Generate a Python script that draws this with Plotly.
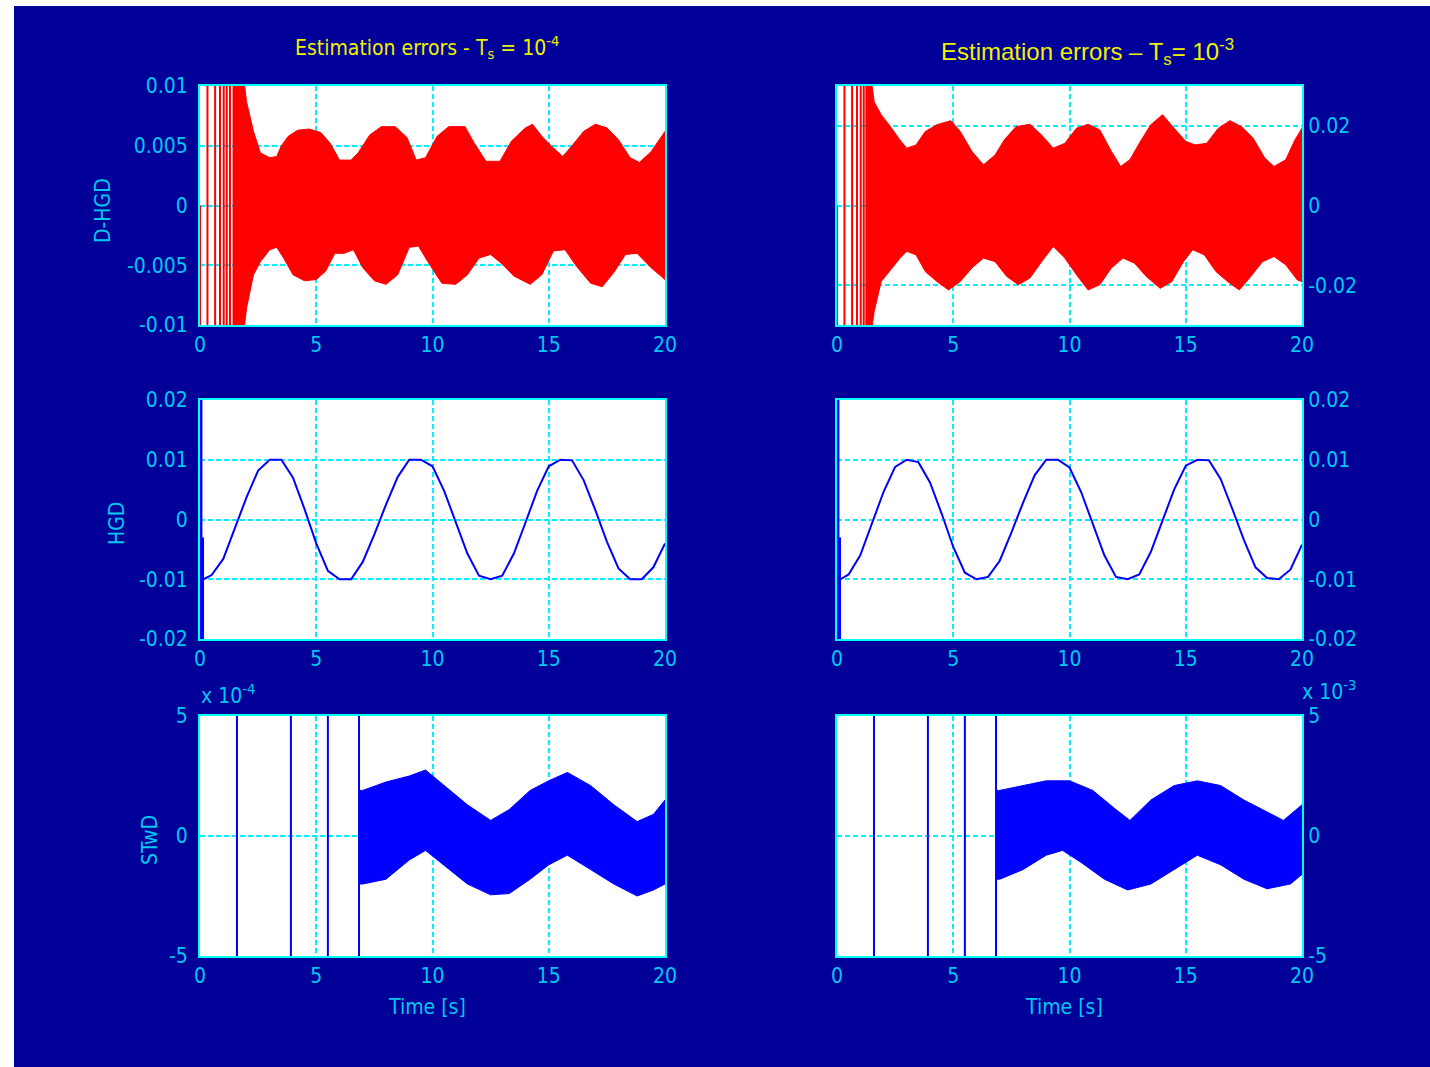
import plotly.graph_objects as go

W, H = 1430, 1067

# ---------------- data ----------------
TIME_TICKS = [0, 5, 10, 15, 20]
TIME_TICK_LABELS = ["0", "5", "10", "15", "20"]

# Row 1 – D-HGD estimation error (values in units of 1e-3)
DHGD4_SPIKES_T = [0.32, 0.65, 0.86, 1.02, 1.15, 1.29]
DHGD4_UP_T = [1.40, 1.80, 2.0, 2.3, 2.6, 3.0, 3.3, 3.5, 3.8, 4.2, 4.7, 5.2, 5.6, 6.0, 6.5, 6.8, 7.3, 7.8, 8.4, 8.9,
              9.3, 9.7, 10.2, 10.7, 11.4, 11.8, 12.3, 12.9, 13.4, 14.0, 14.3, 14.7, 15.1, 15.6, 16.0, 16.5, 17.0,
              17.5, 18.0, 18.5, 18.9, 19.4, 20.0]
DHGD4_UP = [12, 12, 8.7, 6.2, 4.4, 4.0, 4.1, 5.0, 5.8, 6.3, 6.4, 6.1, 5.2, 3.8, 3.8, 4.4, 5.9, 6.6, 6.6, 5.7,
            3.8, 4.0, 5.8, 6.6, 6.6, 5.2, 3.7, 3.7, 5.4, 6.5, 6.8, 5.8, 5.0, 4.1, 5.0, 6.2, 6.8,
            6.5, 5.5, 4.0, 3.6, 4.5, 6.2]
DHGD4_LO_T = [1.40, 1.80, 2.0, 2.3, 2.6, 3.0, 3.3, 3.6, 4.0, 4.5, 5.0, 5.4, 5.8, 6.2, 6.6, 7.0, 7.5, 8.0, 8.5, 9.0,
              9.4, 9.8, 10.4, 11.0, 11.5, 12.0, 12.5, 13.0, 13.5, 14.2, 14.7, 15.2, 15.7, 16.2, 16.8, 17.3, 17.8,
              18.3, 18.8, 19.4, 20.0]
DHGD4_LO = [-12, -12, -8.6, -5.8, -4.7, -3.7, -3.5, -4.4, -5.8, -6.3, -6.2, -5.5, -4.0, -4.0, -3.7, -5.2, -6.3,
            -6.6, -5.8, -3.5, -3.4, -4.7, -6.5, -6.6, -5.8, -4.4, -4.1, -4.9, -5.9, -6.6, -5.8, -3.8, -3.7,
            -5.1, -6.5, -6.8, -5.6, -4.1, -4.0, -5.2, -6.2]

DHGD3_SPIKES_T = [0.32, 0.65, 0.86, 1.02, 1.15]
DHGD3_UP_T = [1.22, 1.4, 1.6, 1.9, 2.3, 2.7, 3.0, 3.4, 3.8, 4.3, 4.9, 5.3, 5.8, 6.3, 6.8, 7.2, 7.7, 8.3, 8.8, 9.3,
              9.8, 10.3, 10.8, 11.3, 11.8, 12.2, 12.6, 13.0, 13.5, 14.0, 14.5, 15.0, 15.4, 15.9, 16.4, 16.9,
              17.4, 17.9, 18.4, 18.8, 19.3, 19.7, 20.0]
DHGD3_UP = [35, 35, 26, 22.8, 19.8, 16.5, 14.4, 15.2, 18.6, 20.3, 21.3, 18.6, 13.6, 10.2, 12.7, 16.5, 19.8, 20.4,
            17.7, 14.4, 15.6, 19.4, 20.4, 19.0, 13.6, 9.8, 11.5, 15.6, 20.3, 22.8, 19.4, 16.1, 15.2, 15.6,
            19.4, 21.3, 19.8, 16.9, 11.9, 9.8, 11.5, 16.5, 19.4]
DHGD3_LO_T = [1.22, 1.4, 1.6, 1.9, 2.3, 2.7, 3.0, 3.4, 3.8, 4.3, 4.8, 5.3, 5.8, 6.3, 6.8, 7.3, 7.8, 8.3, 8.8, 9.3,
              9.8, 10.3, 10.8, 11.3, 11.8, 12.3, 12.8, 13.3, 13.9, 14.4, 14.9, 15.3, 15.8, 16.3, 16.8, 17.3,
              17.8, 18.3, 18.8, 19.3, 19.8, 20.0]
DHGD3_LO = [-35, -35, -26.6, -19.1, -16.2, -13.3, -11.5, -12.4, -16.6, -19.1, -21.2, -19.1, -15.7, -13.2, -14.1,
            -17.8, -19.9, -18.2, -14.1, -10.3, -13.2, -17.4, -21.2, -19.9, -15.7, -13.2, -14.5, -17.8, -20.8,
            -19.1, -14.1, -11.1, -12.4, -16.6, -19.1, -21.2, -17.8, -14.1, -12.8, -14.9, -18.7, -19.1]

# Row 2 – HGD (values in units of 1e-3)
HGD_T = [0.15, 0.5, 1.0, 1.5, 2.0, 2.5, 3.0, 3.5, 4.0, 4.5, 5.0, 5.5, 6.0, 6.5, 7.0, 7.5, 8.0, 8.5, 9.0, 9.5,
         10.0, 10.5, 11.0, 11.5, 12.0, 12.5, 13.0, 13.5, 14.0, 14.5, 15.0, 15.5, 16.0, 16.5, 17.0, 17.5, 18.0,
         18.5, 19.0, 19.5, 20.0]
HGD4 = [-10, -9.3, -6.6, -1.6, 3.7, 8.2, 10, 10, 7.0, 1.7, -4.0, -8.6, -10, -10, -7.1, -2.5, 2.5, 7.1, 10, 10,
        8.9, 4.8, -0.5, -5.7, -9.4, -10, -9.4, -5.7, -0.5, 4.8, 8.9, 10, 9.9, 6.6, 1.6, -3.7, -8.2,
        -10, -10, -8.0, -4.0]
HGD3 = [-10, -9.2, -6.0, -0.8, 4.6, 8.8, 10, 9.6, 6.2, 1.0, -4.6, -8.9, -10, -9.6, -6.9, -2.2, 2.8, 7.4, 10, 10,
        8.7, 4.6, -0.8, -6.0, -9.6, -10, -9.2, -5.4, -0.2, 5.0, 9.0, 10, 9.9, 6.8, 1.8, -3.4, -8.0,
        -9.8, -10, -8.4, -4.2]
HGD_SPIKE_T = [0.05, 0.12]
HGD_SPIKE_TOP = [25, -3]

# Row 3 – STwD (left in units of 1e-4, right in units of 1e-3)
STWD_SPIKES_T = [1.59, 3.91, 5.50, 6.84]
STWD4_UP_T = [6.84, 7.0, 8.0, 9.0, 9.7, 10.5, 11.5, 12.5, 13.3, 14.2, 15.0, 15.8, 16.8, 17.8, 18.8, 19.5, 20.0]
STWD4_UP = [1.9, 1.9, 2.25, 2.5, 2.75, 2.1, 1.3, 0.65, 1.1, 1.9, 2.3, 2.65, 2.1, 1.3, 0.6, 0.9, 1.5]
STWD4_LO_T = [6.84, 7.0, 8.0, 9.0, 9.7, 10.5, 11.5, 12.5, 13.3, 14.2, 15.0, 15.8, 16.8, 17.8, 18.8, 19.5, 20.0]
STWD4_LO = [-2.0, -2.0, -1.8, -1.0, -0.6, -1.2, -2.0, -2.45, -2.4, -1.8, -1.2, -0.8, -1.4, -2.0, -2.5, -2.25, -2.0]
STWD3_UP_T = [6.84, 7.0, 8.0, 9.0, 10.0, 11.0, 12.0, 12.6, 13.5, 14.5, 15.5, 16.5, 17.5, 18.5, 19.2, 20.0]
STWD3_UP = [1.9, 1.9, 2.1, 2.3, 2.3, 1.9, 1.1, 0.65, 1.5, 2.1, 2.3, 2.1, 1.5, 1.0, 0.65, 1.3]
STWD3_LO_T = [6.84, 7.0, 8.0, 9.0, 9.7, 10.5, 11.5, 12.5, 13.5, 14.5, 15.5, 16.5, 17.5, 18.5, 19.5, 20.0]
STWD3_LO = [-1.8, -1.8, -1.4, -0.8, -0.6, -1.1, -1.8, -2.25, -2.0, -1.4, -0.8, -1.2, -1.8, -2.2, -2.0, -1.6]

# tick values / labels
DHGD4_TICKS = [-0.01, -0.005, 0, 0.005, 0.01]
DHGD4_LABELS = ["-0.01", "-0.005", "0", "0.005", "0.01"]
DHGD3_TICKS = [-0.02, 0, 0.02]
DHGD3_LABELS = ["-0.02", "0", "0.02"]
HGD_TICKS = [-0.02, -0.01, 0, 0.01, 0.02]
HGD_LABELS = ["-0.02", "-0.01", "0", "0.01", "0.02"]
STWD_TICKS = [-5, 0, 5]
STWD_LABELS = ["-5", "0", "5"]

# ---------------- style ----------------
BG = "#000099"
FRAME = "#00FFFF"
GRID = "#00F0FF"
TICKC = "#00C8F0"
YELLOW = "#F0F000"
RED = "#FF0000"
BLUE = "#0000FF"
NARROW = "Liberation Sans Narrow, DejaVu Sans Condensed, Arial Narrow, sans-serif"
ARIAL = "Liberation Sans, Arial, sans-serif"


def fx(p):
    return p / W


def fy(p):
    return 1 - p / H


def scale(vals, k):
    return [None if v is None else v * k for v in vals]


def band(up_t, up, lo_t, lo, k):
    return up_t + lo_t[::-1], scale(up, k) + scale(lo[::-1], k)


def spikes(times, lo, hi):
    xs, ys = [], []
    for t in times:
        xs += [t, t, None]
        ys += [lo, hi, None]
    return xs, ys


fig = go.Figure()

LEFT = [fx(200), fx(665)]
RIGHT = [fx(837), fx(1302)]
ROWS = [[fy(325), fy(86)], [fy(639), fy(400)], [fy(956), fy(716)]]

# Row 1 left
bx, by = band(DHGD4_UP_T, DHGD4_UP, DHGD4_LO_T, DHGD4_LO, 1e-3)
fig.add_trace(go.Scatter(x=bx, y=by, fill="toself", fillcolor=RED, mode="lines",
                         line=dict(color=RED, width=1), xaxis="x", yaxis="y", hoverinfo="skip"))
sx, sy = spikes(DHGD4_SPIKES_T, -0.012, 0.012)
sx += [0, 0]
sy += [0, -0.012]
fig.add_trace(go.Scatter(x=sx, y=sy, mode="lines", line=dict(color=RED, width=2), xaxis="x", yaxis="y",
                         hoverinfo="skip"))

# Row 1 right
bx, by = band(DHGD3_UP_T, DHGD3_UP, DHGD3_LO_T, DHGD3_LO, 1e-3)
fig.add_trace(go.Scatter(x=bx, y=by, fill="toself", fillcolor=RED, mode="lines",
                         line=dict(color=RED, width=1), xaxis="x2", yaxis="y2", hoverinfo="skip"))
sx, sy = spikes(DHGD3_SPIKES_T, -0.035, 0.035)
sx += [0, 0]
sy += [0, -0.035]
fig.add_trace(go.Scatter(x=sx, y=sy, mode="lines", line=dict(color=RED, width=2), xaxis="x2", yaxis="y2",
                         hoverinfo="skip"))

# Row 2
for vals, xa, ya in [(HGD4, "x3", "y3"), (HGD3, "x4", "y4")]:
    fig.add_trace(go.Scatter(x=HGD_T, y=scale(vals, 1e-3), mode="lines", line=dict(color=BLUE, width=2),
                             xaxis=xa, yaxis=ya, hoverinfo="skip"))
    sx, sy = [], []
    for t, top in zip(HGD_SPIKE_T, HGD_SPIKE_TOP):
        sx += [t, t, None]
        sy += [top * 1e-3, -0.025, None]
    fig.add_trace(go.Scatter(x=sx, y=sy, mode="lines", line=dict(color=BLUE, width=2.5),
                             xaxis=xa, yaxis=ya, hoverinfo="skip"))

# Row 3
for (ut, u, lt, l), xa, ya in [((STWD4_UP_T, STWD4_UP, STWD4_LO_T, STWD4_LO), "x5", "y5"),
                               ((STWD3_UP_T, STWD3_UP, STWD3_LO_T, STWD3_LO), "x6", "y6")]:
    bx, by = band(ut, u, lt, l, 1)
    fig.add_trace(go.Scatter(x=bx, y=by, fill="toself", fillcolor=BLUE, mode="lines",
                             line=dict(color=BLUE, width=1), xaxis=xa, yaxis=ya, hoverinfo="skip"))
    sx, sy = spikes(STWD_SPIKES_T, -6, 6)
    fig.add_trace(go.Scatter(x=sx, y=sy, mode="lines", line=dict(color=BLUE, width=2),
                             xaxis=xa, yaxis=ya, hoverinfo="skip"))

tickfont = dict(family=NARROW, size=21, color=TICKC)
GRIDDASH = "5px,3px"


def xax(domain, anchor):
    return dict(domain=domain, anchor=anchor, range=[0, 20], tickvals=TIME_TICKS, ticktext=TIME_TICK_LABELS,
                showgrid=True, gridcolor=GRID, griddash=GRIDDASH, gridwidth=1.5, showline=True, linecolor=FRAME,
                linewidth=2, mirror=True, ticks="", tickfont=tickfont, zeroline=False, fixedrange=True,
                ticklabelstandoff=0, automargin=False)


def yax(domain, anchor, rng, tv, tt, side):
    return dict(domain=domain, anchor=anchor, range=rng, tickvals=tv, ticktext=tt, side=side,
                showgrid=True, gridcolor=GRID, griddash=GRIDDASH, gridwidth=1.5, showline=True, linecolor=FRAME,
                linewidth=2, mirror=True, ticks="", tickfont=tickfont, zeroline=False, fixedrange=True,
                ticklabelstandoff=6 if side == "left" else 0, automargin=False)


fig.update_layout(
    width=W, height=H, autosize=False, margin=dict(l=0, r=0, t=0, b=0, pad=0),
    paper_bgcolor=BG, plot_bgcolor="white", showlegend=False,
    xaxis=xax(LEFT, "y"), yaxis=yax(ROWS[0], "x", [-0.01, 0.01], DHGD4_TICKS, DHGD4_LABELS, "left"),
    xaxis2=xax(RIGHT, "y2"), yaxis2=yax(ROWS[0], "x2", [-0.03, 0.03], DHGD3_TICKS, DHGD3_LABELS, "right"),
    xaxis3=xax(LEFT, "y3"), yaxis3=yax(ROWS[1], "x3", [-0.02, 0.02], HGD_TICKS, HGD_LABELS, "left"),
    xaxis4=xax(RIGHT, "y4"), yaxis4=yax(ROWS[1], "x4", [-0.02, 0.02], HGD_TICKS, HGD_LABELS, "right"),
    xaxis5=xax(LEFT, "y5"), yaxis5=yax(ROWS[2], "x5", [-5, 5], STWD_TICKS, STWD_LABELS, "left"),
    xaxis6=xax(RIGHT, "y6"), yaxis6=yax(ROWS[2], "x6", [-5, 5], STWD_TICKS, STWD_LABELS, "right"),
)

# white strips at the top and left edge of the picture
fig.add_shape(type="rect", xref="paper", yref="paper", x0=0, x1=fx(14), y0=0, y1=1,
              fillcolor="white", line_width=0, layer="below")
fig.add_shape(type="rect", xref="paper", yref="paper", x0=0, x1=1, y0=fy(6), y1=1,
              fillcolor="white", line_width=0, layer="below")


def ann(text, x, y, font, angle=0, xanchor="center"):
    fig.add_annotation(text=text, x=fx(x), y=fy(y), xref="paper", yref="paper", showarrow=False,
                       font=font, textangle=angle, xanchor=xanchor, yanchor="middle")


ann("Estimation errors - T<sub>s</sub> = 10<sup>-4</sup>", 427, 47, dict(family=NARROW, size=21, color=YELLOW))
ann("Estimation errors – T<sub>s</sub>= 10<sup>-3</sup>", 1087, 52, dict(family=ARIAL, size=24, color=YELLOW))
lab = dict(family=NARROW, size=21, color=TICKC)
ann("D-HGD", 103, 211, lab, angle=-90)
ann("HGD", 117, 524, lab, angle=-90)
ann("STwD", 150, 840, lab, angle=-90)
ann("Time [s]", 427, 1007, lab)
ann("Time [s]", 1064, 1007, lab)
ann("x 10<sup>-4</sup>", 199, 694, lab, xanchor="left")
ann("x 10<sup>-3</sup>", 1300, 690, lab, xanchor="left")

fig.write_html(
    "out.html",
    config={"displayModeBar": False, "responsive": False},
    post_script="document.documentElement.style.margin='0';document.body.style.margin='0';"
                "document.body.style.overflow='hidden';document.documentElement.style.overflow='hidden';",
)
